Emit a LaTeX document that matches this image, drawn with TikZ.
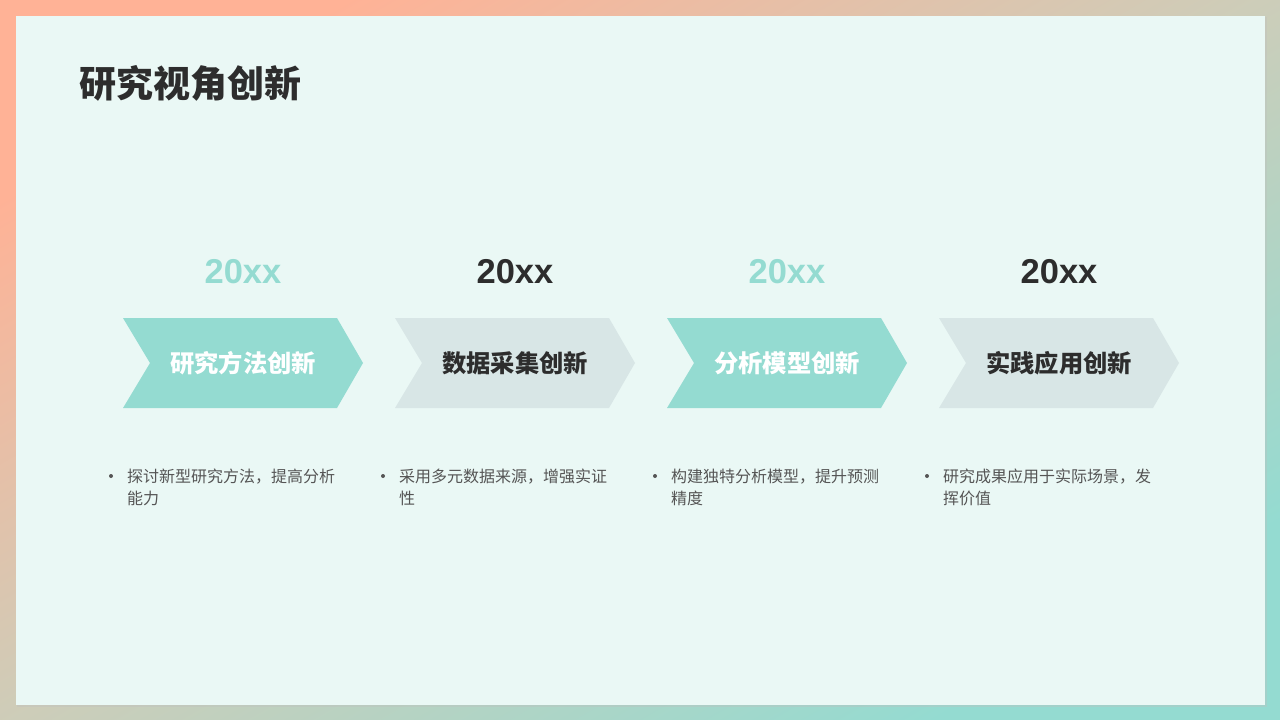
\documentclass[tikz,border=0pt]{standalone}
\usepackage{fontspec}
\setmainfont{Noto Sans CJK SC}
\newfontfamily\yearfont{Liberation Sans}
\definecolor{salmon}{RGB}{255,178,150}
\definecolor{tealb}{RGB}{148,219,209}
\definecolor{panel}{RGB}{234,248,245}
\definecolor{chevteal}{RGB}{148,219,209}
\definecolor{chevgrey}{RGB}{216,230,230}
\definecolor{darktext}{RGB}{45,45,45}
\definecolor{bodytext}{RGB}{85,85,85}
\tikzset{
  yearlbl/.style={font=\yearfont\bfseries\fontsize{34.5}{38}\selectfont, anchor=center, inner sep=0pt},
  chevlbl/.style={font=\bfseries\fontsize{24.3}{28}\selectfont, anchor=center, inner sep=0pt},
  bodylbl/.style={font=\fontsize{16}{22}\selectfont, text=bodytext, anchor=north west, inner sep=0pt, align=left},
  bulletdot/.style={circle, fill=bodytext, inner sep=0pt, minimum size=4pt},
}
\begin{document}
\begin{tikzpicture}[x=1pt,y=-1pt]
\useasboundingbox (0,0) rectangle (1280,720);
\shade[left color=salmon, right color=tealb, middle color={rgb,255:red,205;green,205;blue,185}, shading angle=30] (0,0) rectangle (1280,720);
\fill[black!25, opacity=0.35] (17,17) rectangle (1267,707);
\fill[panel] (16,16) rectangle (1265,705);
\node[anchor=west, inner sep=0pt, font=\bfseries\fontsize{37}{41}\selectfont, text=darktext] (title) at (79,83) {研究视角创新};
\foreach \i/\yc/\fc/\tc/\lab/\la/\lb in {
  0/chevteal/chevteal/white/研究方法创新/探讨新型研究方法，提高分析/能力,
  1/darktext/chevgrey/darktext/数据采集创新/采用多元数据来源，增强实证/性,
  2/chevteal/chevteal/white/分析模型创新/构建独特分析模型，提升预测/精度,
  3/darktext/chevgrey/darktext/实践应用创新/研究成果应用于实际场景，发/挥价值}{
  \pgfmathsetmacro{\xo}{123+272*\i}
  \fill[\fc] (\xo,318) -- (\xo+214,318) -- (\xo+240,363) -- (\xo+214,408) -- (\xo,408) -- (\xo+27,363) -- cycle;
  \node[yearlbl, text=\yc] (year\i) at (\xo+120,272) {20xx};
  \node[chevlbl, text=\tc] (chev\i) at (\xo+120,363) {\lab};
  \node[bulletdot] (dot\i) at (\xo-12,476) {};
  \node[bodylbl] (body\i) at (\xo+4,469) {\la\\\lb};
}
\end{tikzpicture}
\end{document}
